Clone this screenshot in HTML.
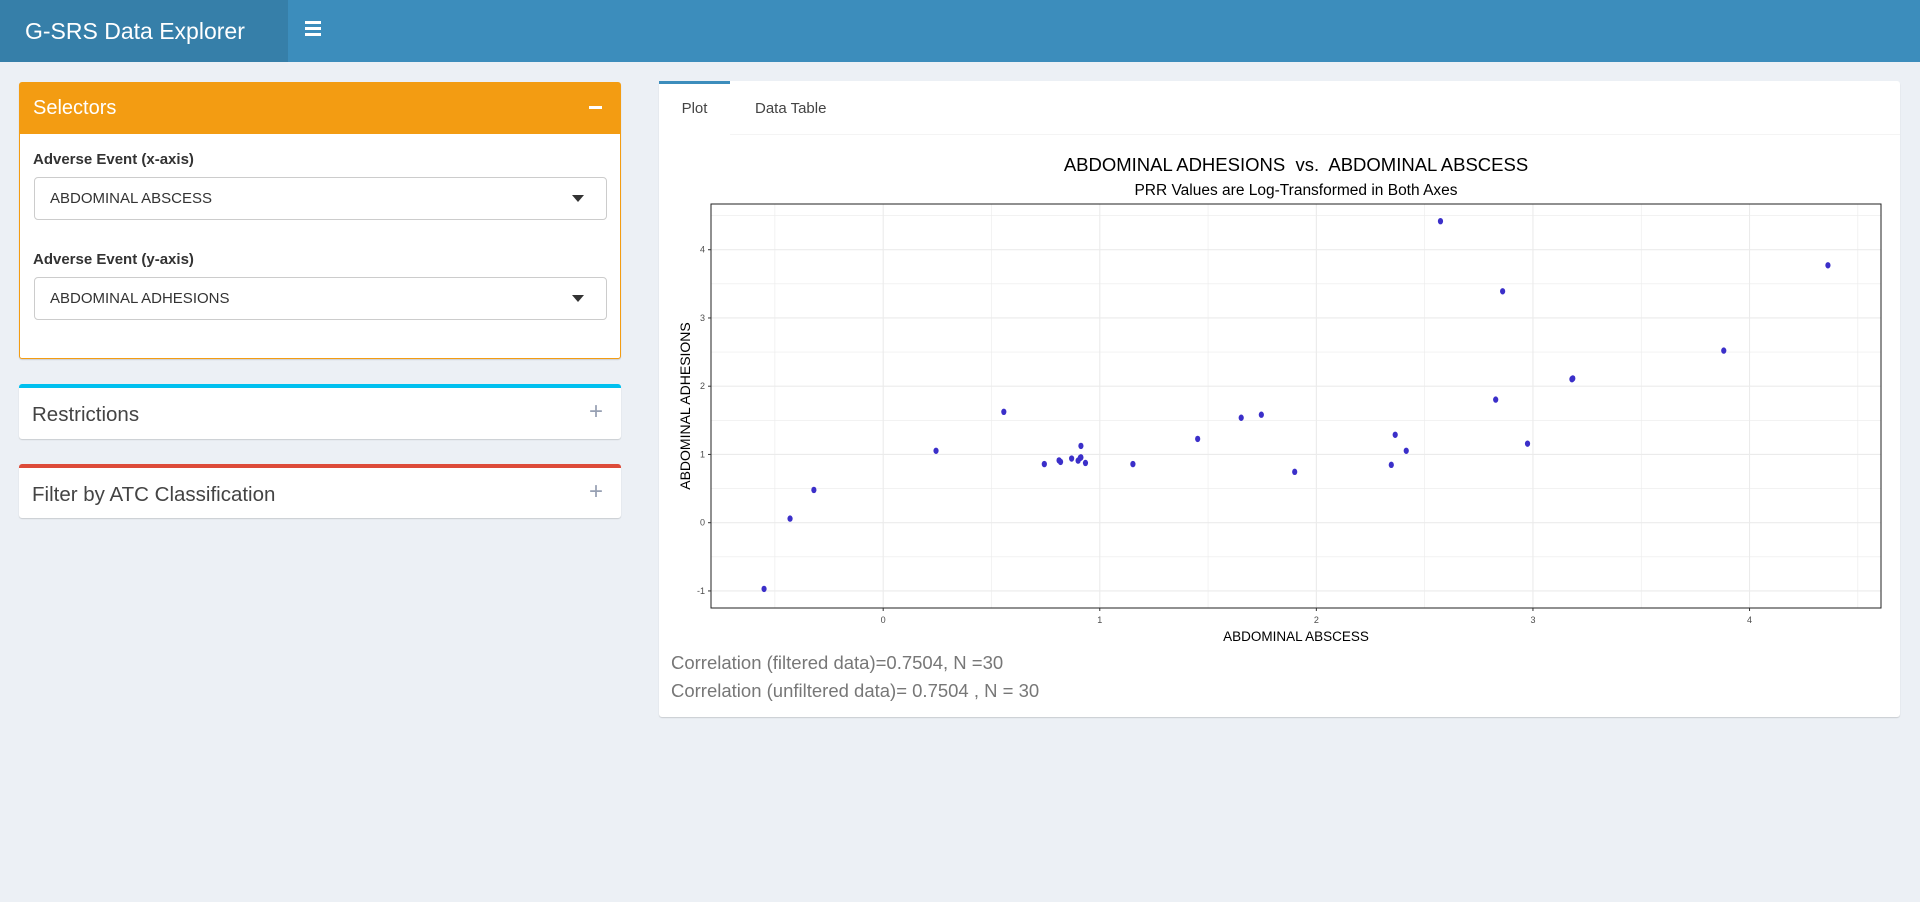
<!DOCTYPE html>
<html><head><meta charset="utf-8">
<style>
*{box-sizing:border-box}
body{margin:0;width:1920px;height:902px;background:#ecf0f5;font-family:"Liberation Sans",sans-serif;position:relative;overflow:hidden}
.hdr{position:absolute;left:0;top:0;width:1920px;height:62px;background:#3c8dbc}
.brand{position:absolute;left:0;top:0;width:288px;height:62px;background:#367fa9;color:#fff;font-size:23px;line-height:62px;padding-left:25px}
.burger{position:absolute;left:305px;top:21px;width:16px}
.burger div{height:3px;background:#fff;margin-bottom:3px}
.box{position:absolute;left:19px;width:602px;background:#fff;box-shadow:0 1px 1px rgba(0,0,0,.15);border-radius:3px}
.lbl{position:absolute;left:13px;font-weight:bold;font-size:15px;color:#333}
.sel{position:absolute;left:14px;width:573px;height:43px;border:1px solid #ccc;border-radius:4px;font-size:15px;color:#333;line-height:41px;padding-left:15px}
.sel .car{position:absolute;right:22px;top:17px;border-left:6px solid transparent;border-right:6px solid transparent;border-top:7px solid #333}
.bt{position:absolute;left:13px;font-size:20.5px;color:#444}
.plus{position:absolute;right:18px;font-size:24px;color:#97a0b3}
</style></head><body>
<div class="hdr">
  <div class="brand">G-SRS Data Explorer</div>
  <div class="burger"><div></div><div></div><div></div></div>
</div>

<div class="box" style="top:82px;height:277px;border:1px solid #f39c12">
  <div style="position:absolute;left:0;top:0;right:0;height:51px;background:#f39c12;color:#fff;font-size:20px;line-height:51px;padding-left:13px">Selectors
    <span style="position:absolute;right:18px;top:23px;width:13px;height:3px;background:#fff"></span></div>
  <div class="lbl" style="top:68px">Adverse Event (x-axis)</div>
  <div class="sel" style="top:94px">ABDOMINAL ABSCESS<span class="car"></span></div>
  <div class="lbl" style="top:168px">Adverse Event (y-axis)</div>
  <div class="sel" style="top:194px">ABDOMINAL ADHESIONS<span class="car"></span></div>
</div>

<div class="box" style="top:384px;height:55px;border-top:4px solid #00c0ef">
  <div class="bt" style="top:15px">Restrictions</div><div class="plus" style="top:10px">+</div>
</div>
<div class="box" style="top:464px;height:54px;border-top:4px solid #dd4b39">
  <div class="bt" style="top:15px">Filter by ATC Classification</div><div class="plus" style="top:10px">+</div>
</div>

<div style="position:absolute;left:659px;top:81px;width:1241px;height:636px;background:#fff;box-shadow:0 1px 1px rgba(0,0,0,.15);border-radius:3px">
  <div style="position:absolute;left:0;top:0;right:0;height:54px;border-bottom:1px solid #f4f4f4"></div>
  <div style="position:absolute;left:0;top:0;width:71px;height:55px;border-top:3px solid #3c8dbc;background:#fff;font-size:15px;color:#444;text-align:center;line-height:50px">Plot</div>
  <div style="position:absolute;left:96px;top:3px;height:50px;font-size:15px;color:#444;line-height:50px">Data Table</div>
  <div style="position:absolute;left:12px;top:571px;font-size:18.5px;color:#777">Correlation (filtered data)=0.7504, N =30</div>
  <div style="position:absolute;left:12px;top:599px;font-size:18.5px;color:#777">Correlation (unfiltered data)= 0.7504 , N = 30</div>
</div>

<svg id="chart" style="position:absolute;left:0;top:0" width="1920" height="902"></svg>
<script>
const xVals=[-0.55,-0.43,-0.32,0.244,0.557,0.744,0.812,0.819,0.87,0.90,0.913,0.913,0.934,0.91,1.153,1.452,1.653,1.746,1.90,2.346,2.364,2.415,2.573,2.828,2.860,2.975,3.18,3.184,3.881,4.362];
const yVals=[-0.97,0.06,0.48,1.054,1.625,0.859,0.913,0.891,0.94,0.91,0.957,1.125,0.875,0.95,0.859,1.228,1.538,1.582,0.745,0.848,1.288,1.054,4.418,1.804,3.391,1.158,2.103,2.114,2.522,3.772];
const xTicks=[0,1,2,3,4];
const yTicks=[-1,0,1,2,3,4];
const X0=711,X1=1881,Y0=204,Y1=608,xmin=-0.795,xmax=4.607,ymin=-1.25,ymax=4.67;
const sx=v=>X0+(v-xmin)/(xmax-xmin)*(X1-X0);
const sy=v=>Y1-(v-ymin)/(ymax-ymin)*(Y1-Y0);
const svg=document.getElementById('chart');const NS='http://www.w3.org/2000/svg';
function mk(t,a,p){const e=document.createElementNS(NS,t);for(const k in a)e.setAttribute(k,a[k]);(p||svg).appendChild(e);return e;}
const grid=mk('g',{});


for(let v=-1;v<=4.5;v+=0.5){const y=sy(v);if(y>Y0&&y<Y1)mk('line',{x1:X0,x2:X1,y1:y,y2:y,stroke:'#ebebeb','stroke-width':Number.isInteger(v)?1.1:0.6},grid);}
for(let v=-0.5;v<=4.5;v+=0.5){const x=sx(v);if(x>X0&&x<X1)mk('line',{x1:x,x2:x,y1:Y0,y2:Y1,stroke:'#ebebeb','stroke-width':Number.isInteger(v)?1.1:0.6},grid);}
const frame=mk('rect',{x:X0,y:Y0,width:X1-X0,height:Y1-Y0,fill:'none',stroke:'#222','stroke-width':1});


xTicks.forEach(v=>{const x=sx(v);mk('line',{x1:x,x2:x,y1:Y1,y2:Y1+3,stroke:'#333'});
 const t=mk('text',{x:x,y:Y1+15,'font-size':9,fill:'#4d4d4d','text-anchor':'middle','font-family':'Liberation Sans'});t.textContent=v;
 
 });
yTicks.forEach(v=>{const y=sy(v);mk('line',{x1:X0-3,x2:X0,y1:y,y2:y,stroke:'#333'});
 const t=mk('text',{x:X0-6,y:y+3,'font-size':9,fill:'#4d4d4d','text-anchor':'end','font-family':'Liberation Sans'});t.textContent=v;
 
 });
xVals.forEach((v,i)=>{const c=mk('ellipse',{cx:sx(v),cy:sy(yVals[i]),rx:2.6,ry:3.2,fill:'#3b2fc9'});
 
 });
function txt(s,a,name){const t=mk('text',Object.assign({'font-family':'Liberation Sans','text-anchor':'middle',fill:'#000',style:'white-space:pre'},a));t.textContent=s;
 
 return t;}
txt('ABDOMINAL ADHESIONS  vs.  ABDOMINAL ABSCESS',{x:1296,y:171,'font-size':18.5},'chart-title');
txt('PRR Values are Log-Transformed in Both Axes',{x:1296,y:195,'font-size':15.5},'chart-subtitle');
txt('ABDOMINAL ABSCESS',{x:1296,y:641,'font-size':13.5},'x-axis-title');
txt('ABDOMINAL ADHESIONS',{x:0,y:0,'font-size':14,transform:'translate(690,406) rotate(-90)'},'y-axis-title');
</script>
</body></html>
